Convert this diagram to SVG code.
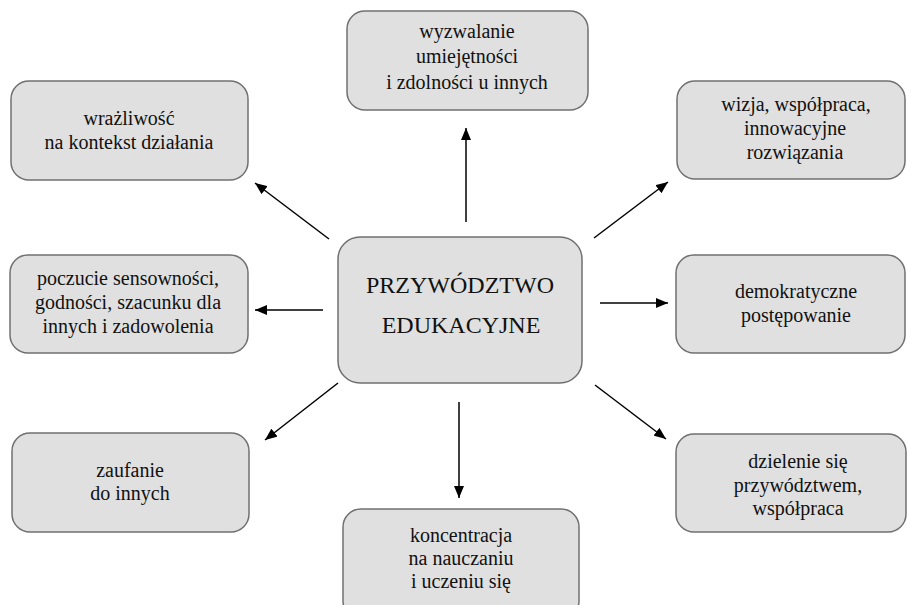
<svg xmlns="http://www.w3.org/2000/svg" width="907" height="605" viewBox="0 0 907 605">
<defs>
<marker id="ah" viewBox="0 0 12 10" refX="12" refY="5" markerWidth="12" markerHeight="10" markerUnits="userSpaceOnUse" orient="auto">
<path d="M0,0 L12,5 L0,10 z" fill="#000"/>
</marker>
</defs>
<style>
.box{fill:#e0e0e0;stroke:#707070;stroke-width:1.5}
.t{font-family:"Liberation Serif","Times New Roman",serif;font-size:20px;fill:#111;text-anchor:middle}
.big{font-size:24px}
.c{stroke:#000;stroke-width:1.5;fill:none;marker-end:url(#ah)}
</style>
<rect width="907" height="605" fill="#fff"/>
<g id="connectors">
<line class="c" x1="466" y1="222" x2="466" y2="128"/>
<line class="c" x1="329" y1="239" x2="255" y2="183"/>
<line class="c" x1="594" y1="238" x2="668" y2="182"/>
<line class="c" x1="323" y1="310" x2="255" y2="310"/>
<line class="c" x1="600" y1="303" x2="668" y2="303"/>
<line class="c" x1="338" y1="383" x2="265" y2="440"/>
<line class="c" x1="459" y1="402" x2="459" y2="498"/>
<line class="c" x1="595" y1="385" x2="666" y2="439"/>
</g>
<g id="center">
<rect class="box" x="338" y="237" width="244" height="146" rx="22"/>
<text class="t big" x="460" y="293">PRZYWÓDZTWO</text>
<text class="t big" x="461" y="333">EDUKACYJNE</text>
</g>
<g id="n-top">
<rect class="box" x="347" y="11" width="241" height="99" rx="18"/>
<text class="t" x="467" y="38">wyzwalanie</text>
<text class="t" x="467" y="63">umiejętności</text>
<text class="t" x="467" y="89">i zdolności u innych</text>
</g>
<g id="n-wrazliwosc">
<rect class="box" x="11" y="81" width="237" height="99" rx="18"/>
<text class="t" x="129" y="125">wrażliwość</text>
<text class="t" x="129" y="149">na kontekst działania</text>
</g>
<g id="n-wizja">
<rect class="box" x="677" y="81" width="228" height="98" rx="18"/>
<text class="t" x="796" y="111">wizja, współpraca,</text>
<text class="t" x="795" y="135">innowacyjne</text>
<text class="t" x="795" y="159">rozwiązania</text>
</g>
<g id="n-poczucie">
<rect class="box" x="10" y="255" width="238" height="98" rx="18"/>
<text class="t" x="128" y="285">poczucie sensowności,</text>
<text class="t" x="128" y="309">godności, szacunku dla</text>
<text class="t" x="128" y="333">innych i zadowolenia</text>
</g>
<g id="n-demokratyczne">
<rect class="box" x="676" y="255" width="229" height="98" rx="18"/>
<text class="t" x="796" y="298">demokratyczne</text>
<text class="t" x="796" y="322">postępowanie</text>
</g>
<g id="n-zaufanie">
<rect class="box" x="12" y="433" width="237" height="99" rx="18"/>
<text class="t" x="130" y="477">zaufanie</text>
<text class="t" x="130" y="500">do innych</text>
</g>
<g id="n-dzielenie">
<rect class="box" x="676" y="434" width="230" height="98" rx="18"/>
<text class="t" x="798" y="468">dzielenie się</text>
<text class="t" x="798" y="492">przywództwem,</text>
<text class="t" x="798" y="515">współpraca</text>
</g>
<g id="n-koncentracja">
<rect class="box" x="343" y="509" width="236" height="110" rx="18"/>
<text class="t" x="461" y="542">koncentracja</text>
<text class="t" x="461" y="565">na nauczaniu</text>
<text class="t" x="461" y="588">i uczeniu się</text>
</g>
</svg>
